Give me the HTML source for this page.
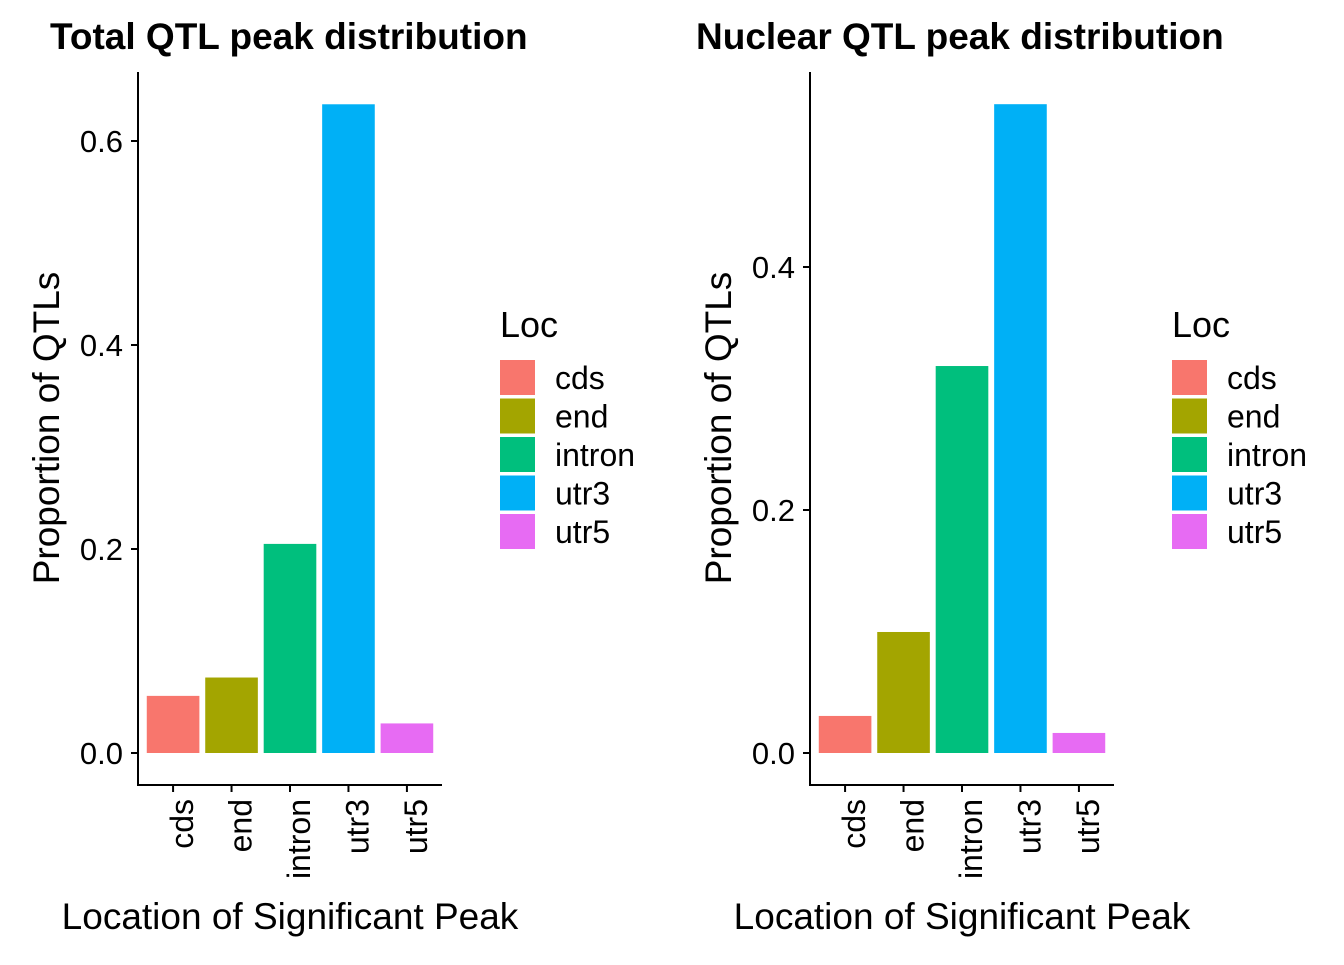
<!DOCTYPE html>
<html><head><meta charset="utf-8"><style>
body{margin:0;background:#fff;}
svg text{font-family:"Liberation Sans",Arial,sans-serif;fill:#000;}
</style></head><body>
<svg id="chart" width="1344" height="960" xmlns="http://www.w3.org/2000/svg"></svg>
<script>
const categories = ["cds","end","intron","utr3","utr5"];
const colors = ["#F8766D","#A3A500","#00BF7D","#00B0F6","#E76BF3"];
const totalValues = [0.056,0.074,0.205,0.636,0.029];
const nuclearValues = [0.0305,0.0996,0.3185,0.534,0.0165];
const totalTicks = [0,0.2,0.4,0.6];
const nuclearTicks = [0,0.2,0.4];
const tickLabels1 = ["0.0","0.2","0.4","0.6"];
const tickLabels2 = ["0.0","0.2","0.4"];

const NS="http://www.w3.org/2000/svg";
const svg=document.getElementById('chart');
function mk(tag,attrs,parent){const e=document.createElementNS(NS,tag);for(const k in attrs)e.setAttribute(k,attrs[k]);(parent||svg).appendChild(e);return e;}

function panel(opt){
  const g=mk('g',{});
  
  
  const x0=opt.x0, x1=opt.x0+304, yZero=753, yTop=72, yBot=785;
  const y=v=>yZero-v*opt.scale;
  const step=304/5.2;
  const bx=i=>x0+step*(0.6+i);
  categories.forEach((c,i)=>{
    const v=opt.values[i];
    const r=mk('rect',{x:bx(i)-step*0.45,y:y(v),width:step*0.9,height:yZero-y(v),fill:colors[i]},g);
    
    
    mk('line',{x1:bx(i),x2:bx(i),y1:yBot,y2:yBot+7,stroke:'#000','stroke-width':2},g);
    const lb=mk('text',{x:0,y:0,'font-size':32,'text-anchor':'end',transform:`translate(${bx(i)+20},${yBot+14}) rotate(-90)`},g);
    lb.textContent=c;
    
    
  });
  opt.ticks.forEach((v,i)=>{
    mk('line',{x1:x0-7,x2:x0,y1:y(v),y2:y(v),stroke:'#000','stroke-width':2},g);
    const t=mk('text',{x:x0-15,y:y(v)+11,'font-size':31,'text-anchor':'end'},g);
    t.textContent=opt.labels[i];
    
    
  });
  const ax=mk('path',{d:`M${x0},${yTop}V${yBot}H${x1}`,stroke:'#000','stroke-width':2,fill:'none'},g);
  
  
  const ti=mk('text',{x:opt.titleX,y:49,'font-size':37,'font-weight':'bold'},g);
  ti.textContent=opt.title;
  
  
  const yt=mk('text',{x:0,y:0,'font-size':37,'text-anchor':'middle',transform:`translate(${x0-79},${428}) rotate(-90)`},g);
  yt.textContent='Proportion of QTLs';
  
  
  const xt=mk('text',{x:(x0+x1)/2,y:929,'font-size':37,'text-anchor':'middle'},g);
  xt.textContent='Location of Significant Peak';
  
  
  const lx=opt.legendX;
  const lt=mk('text',{x:lx,y:337,'font-size':36},g);
  lt.textContent='Loc';
  
  
  categories.forEach((c,i)=>{
    const ky=360+i*38.5;
    const k=mk('rect',{x:lx,y:ky,width:35,height:35,fill:colors[i]},g);
    
    
    const lt2=mk('text',{x:lx+55,y:ky+29,'font-size':32},g);
    lt2.textContent=c;
    
    
  });
}
panel({name:'total-panel',x0:138,scale:1020,values:totalValues,ticks:totalTicks,labels:tickLabels1,title:'Total QTL peak distribution',titleX:50,legendX:500});
panel({name:'nuclear-panel',x0:810,scale:1215,values:nuclearValues,ticks:nuclearTicks,labels:tickLabels2,title:'Nuclear QTL peak distribution',titleX:696,legendX:1172});
</script>
</body></html>
